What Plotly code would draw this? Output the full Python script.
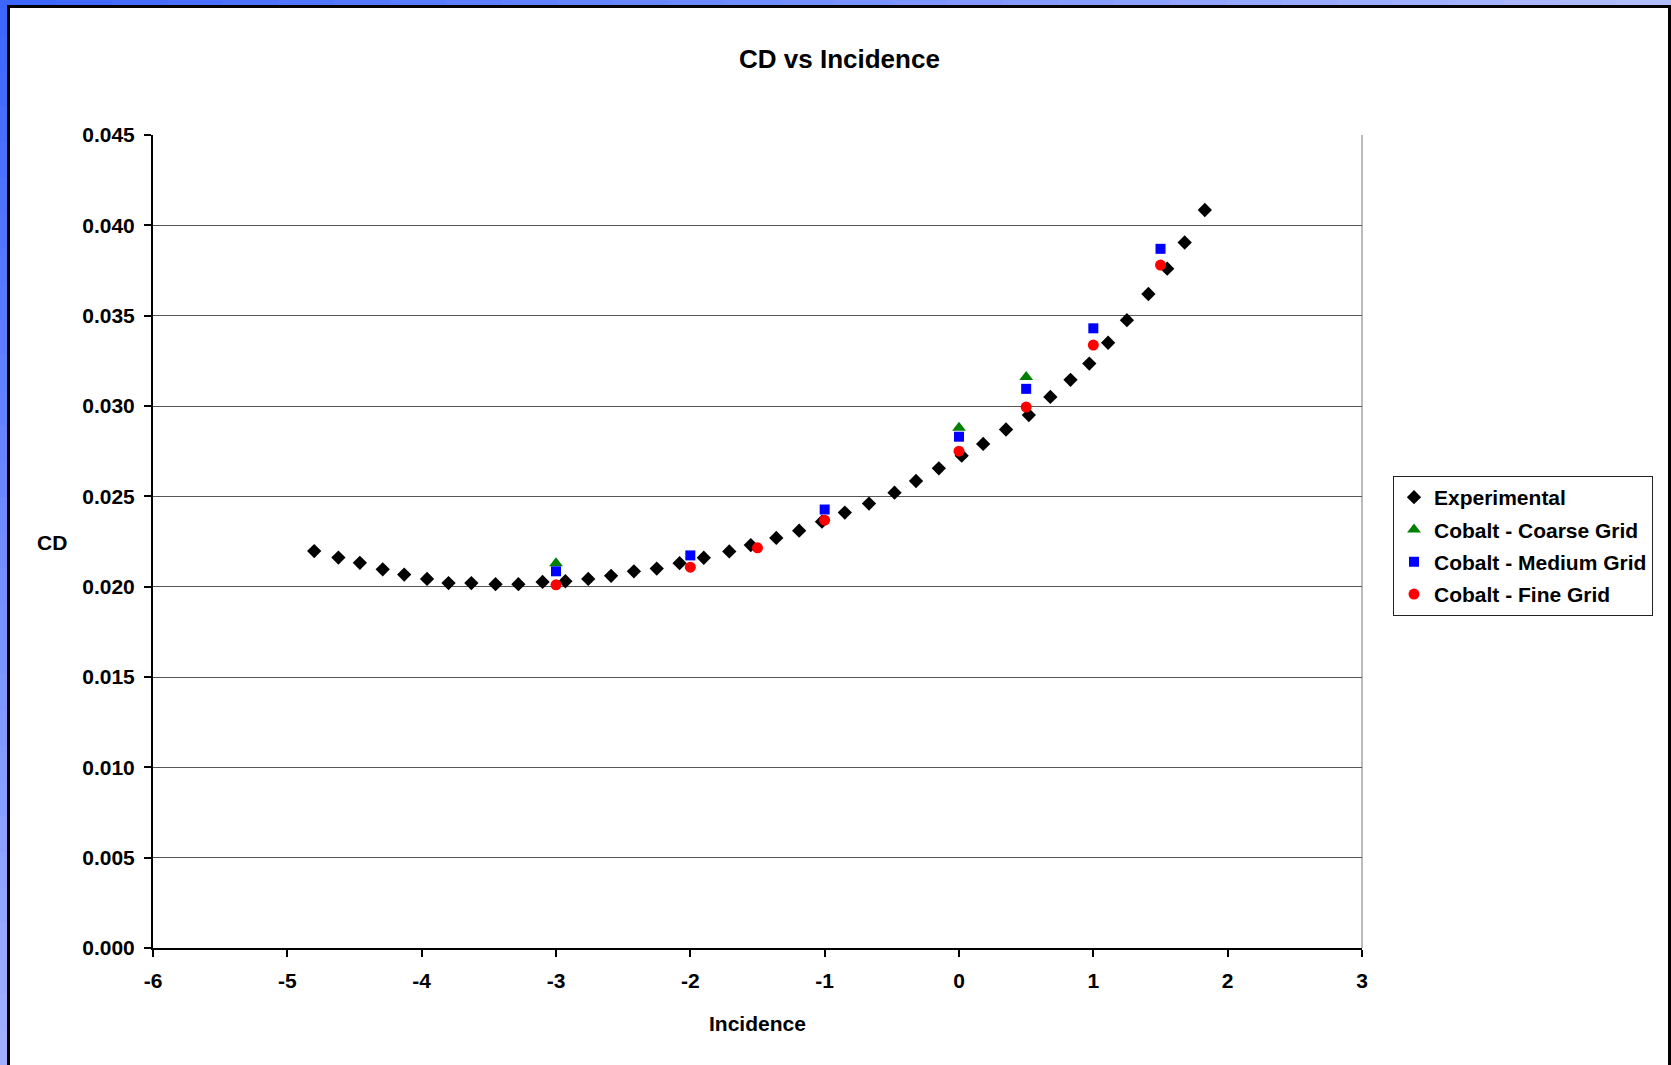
import plotly.graph_objects as go

# ---- data ----
exp_x = [-4.80, -4.62, -4.46, -4.29, -4.13, -3.96, -3.80, -3.63, -3.45, -3.28, -3.10, -2.93,
         -2.76, -2.59, -2.42, -2.25, -2.08, -1.90, -1.71, -1.55, -1.36, -1.19, -1.02, -0.85,
         -0.67, -0.48, -0.32, -0.15, 0.02, 0.18, 0.35, 0.52, 0.68, 0.83, 0.97, 1.11, 1.25,
         1.41, 1.55, 1.68, 1.83]
exp_y = [0.02197, 0.02161, 0.02132, 0.02096, 0.02067, 0.02043, 0.02020, 0.02020, 0.02014,
         0.02014, 0.02026, 0.02030, 0.02043, 0.02060, 0.02085, 0.02100, 0.02130, 0.02160,
         0.02195, 0.02230, 0.02270, 0.02310, 0.02360, 0.02410, 0.02460, 0.02520, 0.02585,
         0.02655, 0.02725, 0.02790, 0.02870, 0.02950, 0.03050, 0.03145, 0.03235, 0.03350,
         0.03475, 0.03620, 0.03760, 0.03905, 0.04085]

coarse_x = [-3.0, 0.0, 0.5]
coarse_y = [0.0213, 0.0288, 0.0316]

medium_x = [-3.0, -2.0, -1.0, 0.0, 0.5, 1.0, 1.5]
medium_y = [0.02085, 0.02173, 0.02427, 0.0283, 0.03095, 0.0343, 0.0387]

fine_x = [-3.0, -2.0, -1.5, -1.0, 0.0, 0.5, 1.0, 1.5]
fine_y = [0.0201, 0.02108, 0.02215, 0.02368, 0.0275, 0.02994, 0.03337, 0.0378]

series_names = ["Experimental", "Cobalt - Coarse Grid", "Cobalt - Medium Grid", "Cobalt - Fine Grid"]

x_tick_vals = [-6, -5, -4, -3, -2, -1, 0, 1, 2, 3]
x_tick_text = ["-6", "-5", "-4", "-3", "-2", "-1", "0", "1", "2", "3"]

# ---- layout geometry (pixels) ----
W, H = 1671, 1065
L, R, T, B = 153, 1362, 135, 948
PW, PH = R - L, B - T

def px(x):
    return (x - L) / PW

def py(y):
    return (B - y) / PH

FONT = "Liberation Sans, Arial, sans-serif"

fig = go.Figure()
fig.add_trace(go.Scatter(x=exp_x, y=exp_y, mode="markers", name=series_names[0],
                         marker=dict(symbol="diamond", size=11, color="black"), legendgroup="a"))
fig.add_trace(go.Scatter(x=coarse_x, y=coarse_y, mode="markers", name=series_names[1],
                         marker=dict(symbol="triangle-up", size=12, color="#008000"), legendgroup="b"))
fig.add_trace(go.Scatter(x=medium_x, y=medium_y, mode="markers", name=series_names[2],
                         marker=dict(symbol="square", size=10, color="#0000ff"), legendgroup="c"))
fig.add_trace(go.Scatter(x=fine_x, y=fine_y, mode="markers", name=series_names[3],
                         marker=dict(symbol="circle", size=11, color="#ff0000"), legendgroup="d"))

shapes = []
def lerp(c1, c2, t):
    return "rgb(%d,%d,%d)" % tuple(round(a + (b - a) * t) for a, b in zip(c1, c2))

N = 30
c_start = (61, 102, 255)
c_top_end = (175, 188, 255)
c_left_end = (160, 176, 255)
for i in range(N):
    x0 = W * i / N
    x1 = W * (i + 1) / N + 1
    shapes.append(dict(type="rect", xref="paper", yref="paper", x0=px(x0), x1=px(x1),
                       y0=py(0), y1=py(6), fillcolor=lerp(c_start, c_top_end, i / (N - 1)),
                       line=dict(width=0), layer="below"))
for i in range(N):
    y0 = H * i / N
    y1 = H * (i + 1) / N + 1
    shapes.append(dict(type="rect", xref="paper", yref="paper", x0=px(0), x1=px(8),
                       y0=py(y0), y1=py(y1), fillcolor=lerp(c_start, c_left_end, i / (N - 1)),
                       line=dict(width=0), layer="below"))
shapes.append(dict(type="line", xref="paper", yref="paper", x0=px(7), x1=px(W), y0=py(6.5), y1=py(6.5),
                   line=dict(color="black", width=3)))
shapes.append(dict(type="line", xref="paper", yref="paper", x0=px(8.5), x1=px(8.5), y0=py(5), y1=py(H),
                   line=dict(color="black", width=3)))
shapes.append(dict(type="line", xref="paper", yref="paper", x0=px(1669.5), x1=px(1669.5), y0=py(5), y1=py(H),
                   line=dict(color="black", width=3)))
shapes.append(dict(type="line", xref="paper", yref="paper", x0=1, x1=1, y0=0, y1=1,
                   line=dict(color="#777777", width=1), layer="below"))

annotations = [
    dict(text="CD vs Incidence", x=px(839), y=py(59), xref="paper", yref="paper", showarrow=False,
         xanchor="center", yanchor="middle", font=dict(family=FONT, size=26, color="black", weight="bold")),
    dict(text="CD", x=px(52), y=py(542), xref="paper", yref="paper", showarrow=False,
         xanchor="center", yanchor="middle", font=dict(family=FONT, size=21, color="black", weight="bold")),
    dict(text="Incidence", x=px(757), y=py(1023), xref="paper", yref="paper", showarrow=False,
         xanchor="center", yanchor="middle", font=dict(family=FONT, size=21, color="black", weight="bold")),
]

fig.update_layout(
    width=W, height=H,
    margin=dict(l=L, r=W - R, t=T, b=H - B, pad=0),
    paper_bgcolor="white", plot_bgcolor="white",
    showlegend=True,
    legend=dict(x=px(1393), y=py(476), xanchor="left", yanchor="top",
                bordercolor="#222222", borderwidth=1, bgcolor="white",
                font=dict(family=FONT, size=21, color="black", weight="bold"),
                tracegroupgap=2, itemwidth=30),
    shapes=shapes,
    annotations=annotations,
    xaxis=dict(range=[-6, 3], tickmode="array", tickvals=x_tick_vals, ticktext=x_tick_text,
               showgrid=False, zeroline=False,
               showline=True, linecolor="black", linewidth=2,
               ticks="outside", ticklen=7, tickwidth=2, tickcolor="black",
               ticklabelstandoff=6,
               tickfont=dict(family=FONT, size=21, color="black", weight="bold")),
    yaxis=dict(range=[0, 0.045], dtick=0.005, tick0=0, tickformat=".3f",
               showgrid=True, gridcolor="#555555", gridwidth=1, zeroline=False,
               showline=True, linecolor="black", linewidth=2,
               ticks="outside", ticklen=7, tickwidth=2, tickcolor="black",
               ticklabelstandoff=5,
               tickfont=dict(family=FONT, size=21, color="black", weight="bold")),
)

fig.write_html("out.html", config={"displayModeBar": False},
               post_script="document.body.style.margin='0';document.body.style.overflow='hidden';")
